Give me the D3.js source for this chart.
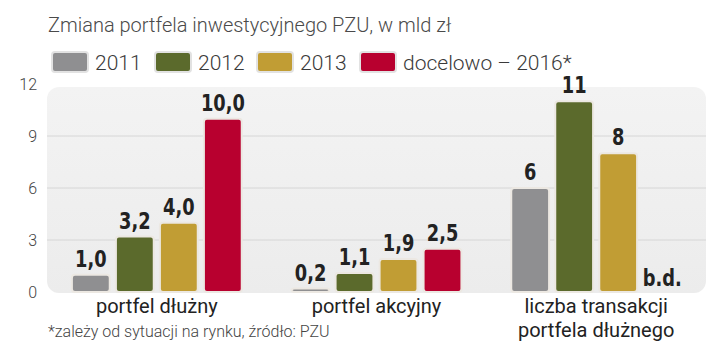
<!DOCTYPE html>
<html><head><meta charset="utf-8">
<script src="https://cdn.jsdelivr.net/npm/d3@7"></script>
<style>
body{margin:0;background:#fff;}
svg{display:block;}
</style></head>
<body>
<svg id="c" width="720" height="354"></svg>
<script>
const title = "Zmiana portfela inwestycyjnego PZU, w mld zł";
const footnote = "*zależy od sytuacji na rynku, źródło: PZU";
const categories = [["portfel dłużny"], ["portfel akcyjny"], ["liczba transakcji", "portfela dłużnego"]];
const categoryDecimals = [1, 1, 0];
const seriesNames = ["2011", "2012", "2013", "docelowo – 2016*"];
const series2011 = [1.0, 0.2, 6];
const series2012 = [3.2, 1.1, 11];
const series2013 = [4.0, 1.9, 8];
const series2016 = [10.0, 2.5, null];
const missingLabel = "b.d.";
const yTicks = [0, 3, 6, 9, 12];
const colors = ["#8f8f91", "#5b6a2c", "#c19d34", "#b8002f"];

const allSeries = [series2011, series2012, series2013, series2016];
const svg = d3.select("#c");
const plot = {left: 47, right: 706, top: 87, bottom: 293};

const x0 = d3.scaleBand().domain(d3.range(categories.length)).range([plot.left, plot.right]);
const x1 = d3.scaleBand().domain(d3.range(seriesNames.length)).range([-88, 88]).paddingInner(0.14).paddingOuter(0.07);
const y = d3.scaleLinear().domain([0, 12]).range([292, 84]);

// background
svg.append("defs").append("linearGradient").attr("id","bg").attr("x1",0).attr("y1",0).attr("x2",0).attr("y2",1)
  .selectAll("stop").data([["0%","#f3f3f3"],["100%","#ececec"]]).join("stop")
  .attr("offset", d=>d[0]).attr("stop-color", d=>d[1]);
svg.append("rect").attr("x", plot.left).attr("y", plot.top).attr("width", plot.right-plot.left)
  .attr("height", plot.bottom-plot.top).attr("rx", 12).attr("fill", "url(#bg)");

// grid
svg.append("g").selectAll("line").data(yTicks.filter(t=>t>0 && t<12)).join("line")
  .attr("x1", plot.left).attr("x2", plot.right).attr("y1", d=>y(d)).attr("y2", d=>y(d))
  .attr("stroke", "#d6d6d6").attr("stroke-width", 1);

// y axis
const yAxis = d3.axisLeft(y).tickValues(yTicks).tickSize(0).tickPadding(0);
const ya = svg.append("g").attr("transform", "translate(37,0)").call(yAxis);
ya.select(".domain").remove();
ya.selectAll("text").attr("font-family", "Roboto").attr("font-weight", 300).attr("font-size", 16).attr("fill", "#444").attr("dy", "0.35em");

// title
svg.append("text").attr("x", 48).attr("y", 32).text(title)
  .attr("font-family", "Roboto").attr("font-weight", 300).attr("font-size", 20).attr("fill", "#4a4a4a");

// legend
const legendX = [52, 155, 257, 360];
const lg = svg.append("g").selectAll("g").data(seriesNames).join("g")
  .attr("transform", (d,i)=>`translate(${legendX[i]},52)`);
lg.append("rect").attr("width", 36).attr("height", 20).attr("rx", 3).attr("fill", (d,i)=>colors[i])
  .attr("stroke", "#e2e2e2").attr("stroke-width", 2);
lg.append("text").attr("x", 43).attr("y", 18).text(d=>d)
  .attr("font-family", "Roboto").attr("font-weight", 300).attr("font-size", 21).attr("fill", "#3a3a3a");

// bars
const fmt = (v, dec) => dec ? d3.format(".1f")(v).replace(".", ",") : d3.format("d")(v);
const barData = [];
categories.forEach((c, ci) => {
  allSeries.forEach((s, si) => {
    barData.push({ci, si, v: s[ci]});
  });
});
const bg = svg.append("g");
bg.selectAll("rect").data(barData.filter(d=>d.v!=null)).join("rect")
  .attr("x", d=>x0(d.ci)+x0.bandwidth()/2+x1(d.si))
  .attr("width", x1.bandwidth())
  .attr("y", d=>y(d.v))
  .attr("height", d=>y(0)-y(d.v))
  .attr("rx", 3)
  .attr("fill", d=>colors[d.si])
  .attr("stroke", "#ece8e2").attr("stroke-width", 2);

bg.selectAll("text").data(barData).join("text")
  .attr("transform", d=>{
    const cx = x0(d.ci)+x0.bandwidth()/2+x1(d.si)+x1.bandwidth()/2;
    const cy = d.v==null ? y(0)-6 : y(d.v)-8;
    return `translate(${cx},${cy}) scale(0.86,1)`;
  })
  .attr("text-anchor", "middle")
  .text(d=> d.v==null ? missingLabel : fmt(d.v, categoryDecimals[d.ci]))
  .attr("font-family", "DejaVu Sans Condensed, DejaVu Sans").attr("font-stretch","condensed")
  .attr("font-weight", "bold").attr("font-size", 23)
  .attr("fill", "#222");

// category labels
const cg = svg.append("g").selectAll("text").data(categories).join("text")
  .attr("x", (d,i)=>x0(i)+x0.bandwidth()/2).attr("y", 313).attr("text-anchor", "middle")
  .attr("font-family", "Roboto").attr("font-size", 20).attr("fill", "#222");
cg.selectAll("tspan").data(d=>d).join("tspan")
  .attr("x", function(){ return d3.select(this.parentNode).attr("x"); })
  .attr("dy", (d,i)=> i ? 24 : 0).text(d=>d);

// footnote
svg.append("text").attr("x", 48).attr("y", 337).text(footnote)
  .attr("font-family", "Roboto").attr("font-weight", 300).attr("font-size", 16).attr("fill", "#444");
</script>
</body></html>
